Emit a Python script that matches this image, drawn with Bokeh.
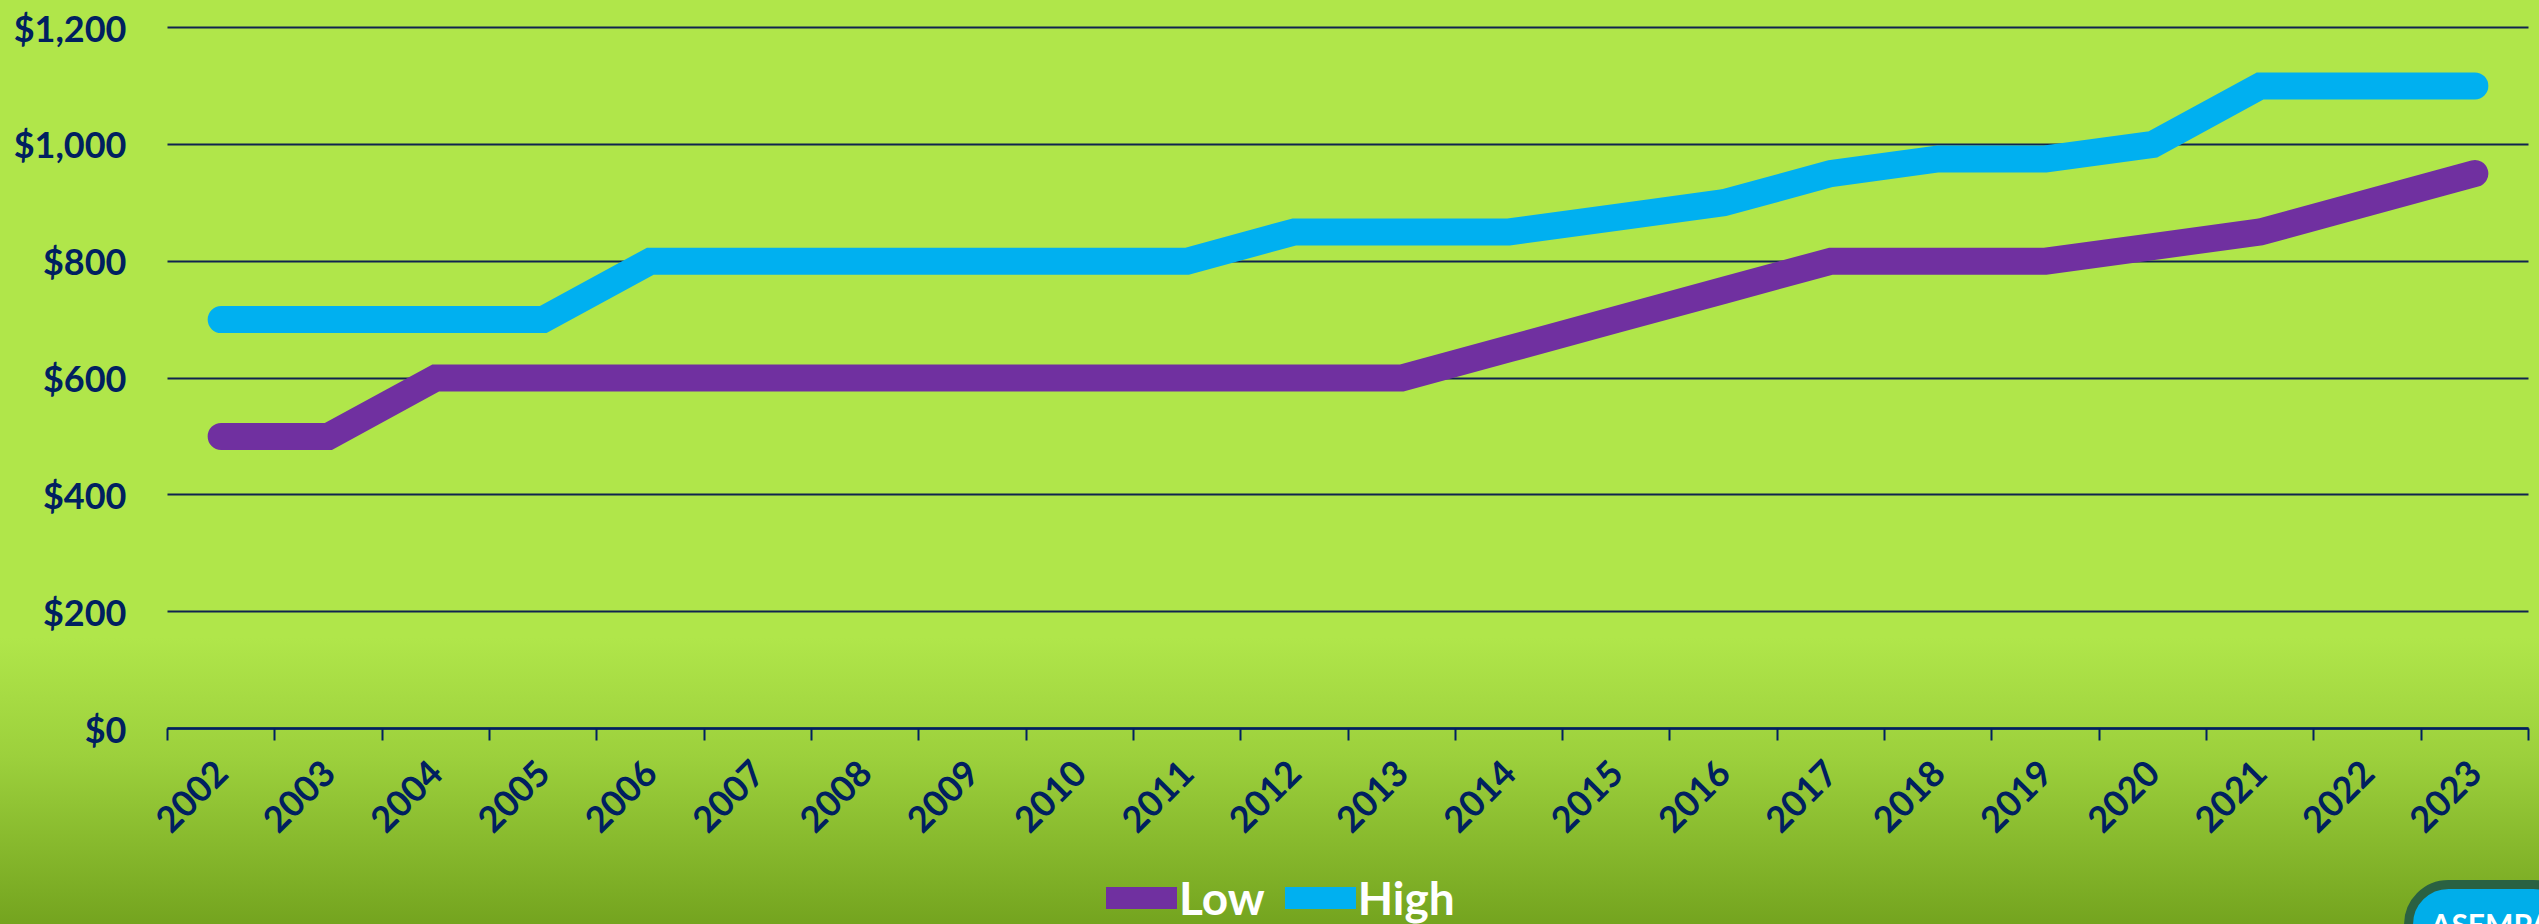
import math
from bokeh.plotting import figure
from bokeh.models import (ColumnDataSource, Range1d, FixedTicker, NumeralTickFormatter,
                          Legend, Label)
from bokeh.embed import file_html
from bokeh.resources import INLINE

years = ["2002", "2003", "2004", "2005", "2006", "2007", "2008", "2009", "2010", "2011", "2012",
         "2013", "2014", "2015", "2016", "2017", "2018", "2019", "2020", "2021", "2022", "2023"]
low = [500, 500, 600, 600, 600, 600, 600, 600, 600, 600, 600,
       600, 650, 700, 750, 800, 800, 800, 825, 850, 900, 950]
high = [700, 700, 700, 700, 800, 800, 800, 800, 800, 800, 850,
        850, 850, 875, 900, 950, 975, 975, 1000, 1100, 1100, 1100]
y_ticks = [0, 200, 400, 600, 800, 1000, 1200]

NAVY = "#002060"
PURPLE = "#7030A0"
BLUE = "#00B0F0"
FONT = "Lato"

n = len(years)
xs = [i + 0.5 for i in range(n)]
src = ColumnDataSource(dict(x=xs, low=low, high=high))

# The frame covers the whole page; axes are pinned at x=0 / y=0 inside it.
W, H = 2539, 924
X0, X1 = 167, 2528          # pixel span of the 22 categories
Y0, Y1 = 728, 27            # pixel position of $0 and $1,200
ppx = (X1 - X0) / n
ppy = (Y0 - Y1) / 1200
x_range = Range1d(-X0 / ppx, n + (W - X1) / ppx)
y_range = Range1d(-(H - Y0) / ppy, 1200 + Y1 / ppy)

p = figure(width=W, height=H, output_backend="svg", toolbar_location=None,
           x_range=x_range, y_range=y_range,
           min_border_left=0, min_border_right=0, min_border_top=0, min_border_bottom=0)

p.styles = {"background": "linear-gradient(to bottom, #B0E64A 0%, #B0E64A 69%, #9CD03C 82%, #74A41F 100%)"}
p.border_fill_color = None
p.background_fill_color = None
p.outline_line_color = None

# grid lines limited to the category span
p.ygrid.ticker = FixedTicker(ticks=y_ticks)
if "cross_bounds" in p.ygrid[0].properties():
    p.ygrid.cross_bounds = (0, n)
    p.ygrid.grid_line_color = "#10234F"
    p.ygrid.grid_line_width = 2
else:
    p.ygrid.grid_line_color = None
    p.segment(x0=[0] * len(y_ticks), x1=[n] * len(y_ticks), y0=y_ticks, y1=y_ticks,
              line_color="#10234F", line_width=2)
p.xgrid.grid_line_color = None

r_low = p.line("x", "low", source=src, line_width=27, line_color=PURPLE,
               line_cap="round", line_join="miter")
r_high = p.line("x", "high", source=src, line_width=27, line_color=BLUE,
                line_cap="round", line_join="miter")

# x axis, drawn at $0
p.xaxis.fixed_location = 0
p.xaxis.bounds = (0, n)
p.xaxis.ticker = FixedTicker(ticks=xs, minor_ticks=list(range(n + 1)))
p.xaxis.major_label_overrides = {x: y for x, y in zip(xs, years)}
p.xaxis.major_label_orientation = math.pi / 4
p.xaxis.major_label_text_font = FONT
p.xaxis.major_label_text_font_style = "bold"
p.xaxis.major_label_text_font_size = "36px"
p.xaxis.major_label_text_color = NAVY
p.xaxis.major_label_standoff = 26
p.xaxis.major_tick_line_color = None
p.xaxis.major_tick_out = 0
p.xaxis.major_tick_in = 0
p.xaxis.minor_tick_out = 12
p.xaxis.minor_tick_in = 0
p.xaxis.minor_tick_line_color = NAVY
p.xaxis.minor_tick_line_width = 2
p.xaxis.axis_line_color = NAVY
p.xaxis.axis_line_width = 2.5

# y axis, pinned at the left edge of the categories
p.yaxis.fixed_location = 0
p.yaxis.ticker = FixedTicker(ticks=y_ticks)
p.yaxis.formatter = NumeralTickFormatter(format="$0,0")
p.yaxis.major_label_text_font = FONT
p.yaxis.major_label_text_font_style = "bold"
p.yaxis.major_label_text_font_size = "36px"
p.yaxis.major_label_text_color = NAVY
p.yaxis.major_label_standoff = 35
p.yaxis.major_tick_line_color = None
p.yaxis.minor_tick_line_color = None
p.yaxis.axis_line_color = None

legend = Legend(items=[("Low", [r_low]), ("High", [r_high])], orientation="horizontal",
                location=(1106, -1), label_text_font=FONT, label_text_font_style="bold",
                label_text_font_size="46px", label_text_color="white",
                background_fill_alpha=0, border_line_color=None,
                glyph_width=71, glyph_height=22, label_standoff=2, spacing=20,
                padding=0, margin=0)
p.add_layout(legend, "center")

logo = Label(x=21.65, y=-267, text="ASEMPA",
             text_font=FONT, text_font_style="bold", text_font_size="30px", text_color="white",
             text_align="center", text_baseline="top",
             background_fill_color="#00AEEA", border_line_color="#2A6142",
             border_line_width=9, border_radius=60, padding=22)
p.add_layout(logo, "center")

open("out.html", "w").write(file_html(p, INLINE))
